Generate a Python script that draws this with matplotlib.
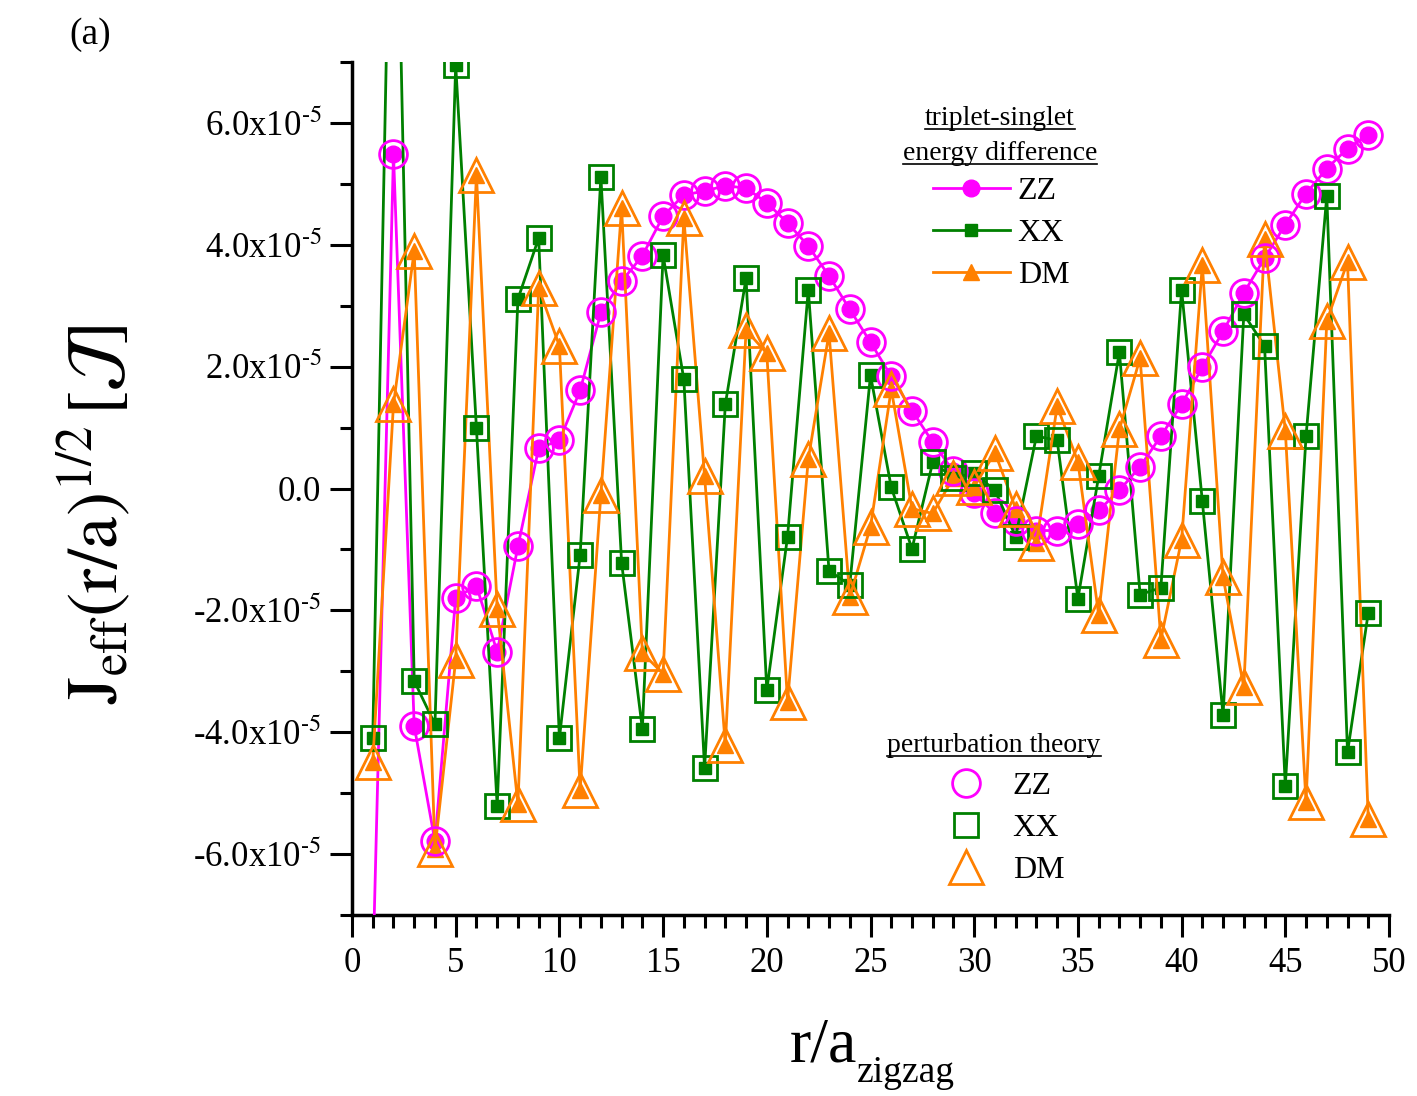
import numpy as np
import matplotlib
matplotlib.use("Agg")
import matplotlib.pyplot as plt
from matplotlib.lines import Line2D

plt.rcParams['font.family'] = ['Liberation Serif', 'DejaVu Serif']
plt.rcParams['mathtext.fontset'] = 'stix'

r = list(range(1, 50))

zz = [-8.0, 5.49, -3.90, -5.79, -1.79, -1.60, -2.68, -0.95, 0.66, 0.79,
      1.61, 2.89, 3.40, 3.82, 4.47, 4.82, 4.88, 4.97, 4.93, 4.69,
      4.36, 3.98, 3.49, 2.94, 2.40, 1.84, 1.28, 0.76, 0.28, -0.08,
      -0.41, -0.54, -0.69, -0.69, -0.59, -0.36, -0.03, 0.36, 0.86, 1.38,
      1.99, 2.58, 3.21, 3.78, 4.33, 4.84, 5.25, 5.58, 5.81]

xx = [-4.10, 13.0, -3.16, -3.87, 6.95, 0.99, -5.21, 3.11, 4.11, -4.10,
      -1.09, 5.12, -1.22, -3.95, 3.83, 1.79, -4.59, 1.38, 3.45, -3.31,
      -0.79, 3.26, -1.35, -1.58, 1.86, 0.02, -0.99, 0.43, 0.18, 0.25,
      -0.03, -0.79, 0.86, 0.79, -1.81, 0.20, 2.24, -1.74, -1.63, 3.26,
      -0.21, -3.72, 2.86, 2.34, -4.88, 0.86, 4.80, -4.33, -2.04]

dm = [-4.49, 1.38, 3.90, -5.92, -2.81, 5.15, -1.97, -5.18, 3.29, 2.34,
      -4.95, -0.10, 4.61, -2.70, -3.04, 4.44, 0.20, -4.21, 2.60, 2.22,
      -3.50, 0.48, 2.55, -1.78, -0.63, 1.63, -0.33, -0.41, 0.18, 0.03,
      0.59, -0.33, -0.89, 1.35, 0.44, -2.07, 0.97, 2.14, -2.48, -0.84,
      3.67, -1.46, -3.26, 4.10, 0.95, -5.15, 2.75, 3.72, -5.43]

# perturbation theory values (coincide with the exact curves in the picture)
zz_pt = zz
xx_pt = xx
dm_pt = dm

ytick_vals = [-6, -4, -2, 0, 2, 4, 6]
xtick_vals = list(range(0, 51, 5))

scale = 1e-5
zz = np.array(zz) * scale
xx = np.array(xx) * scale
dm = np.array(dm) * scale
zz_pt = np.array(zz_pt) * scale
xx_pt = np.array(xx_pt) * scale
dm_pt = np.array(dm_pt) * scale

C_ZZ = '#ff00ff'
C_XX = '#008000'
C_DM = '#ff8000'

W, H = 1417, 1096
fig = plt.figure(figsize=(W/100, H/100), dpi=100)
AX0, AX1, AY0, AY1 = 352, 1389, 62, 915
ax = fig.add_axes([AX0/W, 1-AY1/H, (AX1-AX0)/W, (AY1-AY0)/H])

def axfrac(px, py):
    return (px-AX0)/(AX1-AX0), (AY1-py)/(AY1-AY0)

lw = 2.0
l_zz, = ax.plot(r, zz, '-o', color=C_ZZ, lw=lw, ms=12, mec=C_ZZ, mfc=C_ZZ, zorder=3)
l_xx, = ax.plot(r, xx, '-s', color=C_XX, lw=lw, ms=9, mec=C_XX, mfc=C_XX, zorder=3)
l_dm, = ax.plot(r, dm, '-^', color=C_DM, lw=lw, ms=11, mec=C_DM, mfc=C_DM, zorder=3)

p_zz, = ax.plot(r, zz_pt, 'o', ls='none', ms=20, mfc='none', mec=C_ZZ, mew=2.0, zorder=4)
p_xx, = ax.plot(r, xx_pt, 's', ls='none', ms=17, mfc='none', mec=C_XX, mew=2.0, zorder=4)
p_dm, = ax.plot(r, dm_pt, '^', ls='none', ms=24, mfc='none', mec=C_DM, mew=2.0, zorder=4)

ax.set_xlim(0, 50)
ax.set_ylim(-7e-5, 7e-5)

ax.spines['top'].set_visible(False)
ax.spines['right'].set_visible(False)
for s in ['left', 'bottom']:
    ax.spines[s].set_linewidth(2.5)

ax.set_xticks(xtick_vals)
ax.set_xticks(np.arange(0, 51, 1), minor=True)
ax.set_yticks([v*scale for v in ytick_vals])
ax.set_yticks(np.arange(-7e-5, 7.1e-5, 1e-5), minor=True)

ylabels = []
for v in ytick_vals:
    if v == 0:
        ylabels.append('0.0')
    else:
        ylabels.append(('-' if v < 0 else '') + '%d.0x10$^{\u2010 5}$' % abs(v))
ax.set_yticklabels(ylabels)
ax.set_xticklabels([str(v) for v in xtick_vals])

ax.tick_params(axis='both', which='major', direction='out', length=16, width=2.2, labelsize=25)
ax.tick_params(axis='both', which='minor', direction='out', length=9, width=2.2)
ax.tick_params(axis='y', which='major', pad=6, labelsize=25)
ax.tick_params(axis='x', which='major', pad=7)

ax.set_ylabel(r'$\mathrm{J}_{\mathrm{eff}}(\mathrm{r/a})^{1/2}\,[\mathcal{J}]$', fontsize=52)
ax.yaxis.set_label_coords(-0.210, 0.47)

# x label: "r/a" with a lowered subscript "zigzag"
fig.text(790/W, 1-1062/H, 'r/a', fontsize=46, ha='left', va='baseline')
fig.text(857/W, 1-1082/H, 'zigzag', fontsize=27, ha='left', va='baseline')

fig.text(90/W, 1-35/H, '(a)', fontsize=27, ha='center', va='center')

# legends
leg1 = ax.legend([l_zz, l_xx, l_dm], ['ZZ', 'XX', 'DM'], loc='upper left',
                 bbox_to_anchor=axfrac(933, 177), frameon=False,
                 fontsize=23, handlelength=2.4, handletextpad=0.25, labelspacing=0.39,
                 borderpad=0, borderaxespad=0)
ax.add_artist(leg1)
leg2 = ax.legend([p_zz, p_xx, p_dm], ['ZZ', 'XX', 'DM'], loc='upper left',
                 bbox_to_anchor=axfrac(928, 772), frameon=False,
                 fontsize=23, handlelength=2.4, handletextpad=0.25, labelspacing=0.39,
                 borderpad=0, borderaxespad=0)

titles = [('triplet-singlet', 1000, 125), ('energy difference', 1000, 160),
          ('perturbation theory', 994, 752)]
ttexts = []
for s, px, py in titles:
    fx, fy = axfrac(px, py)
    t = ax.text(fx, fy, s, transform=ax.transAxes,
                ha='center', va='baseline', fontsize=20)
    ttexts.append(t)

fig.canvas.draw()
renderer = fig.canvas.get_renderer()
inv = fig.transFigure.inverted()
for t in ttexts:
    bb = t.get_window_extent(renderer)
    base = t.get_transform().transform(t.get_position())[1]
    yline = base - 4
    (fx0, fy), (fx1, _) = inv.transform([(bb.x0, yline), (bb.x1, yline)])
    fig.add_artist(Line2D([fx0, fx1], [fy, fy], color='black', lw=1.2,
                          transform=fig.transFigure))

fig.savefig('out.png', dpi=100)
